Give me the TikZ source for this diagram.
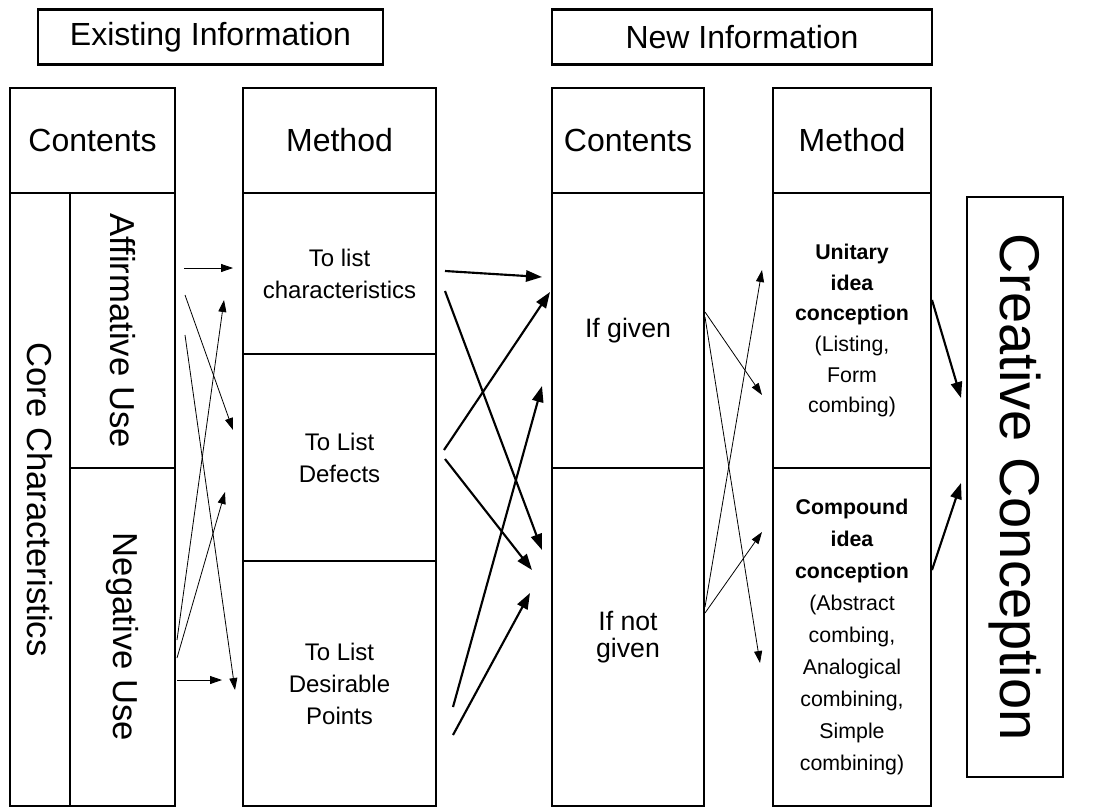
\documentclass[tikz,border=0pt]{standalone}
\usepackage{fontspec}
\setmainfont{Liberation Sans}
\usetikzlibrary{arrows.meta}
\newdimen\px \px=0.75pt

\tikzset{
  box/.style={draw, line width=1.7pt, inner sep=2pt, align=center},
  head/.style={box, font=\fontsize{24}{28}\selectfont},
  side/.style={box, rotate=-90, font=\fontsize{26}{30}\selectfont},
  small/.style={box, font=\fontsize{18}{24}\selectfont},
  thinarr/.style={-{Triangle[length=9pt,width=6pt]}, line width=0.6pt},
  thickarr/.style={-{Triangle[length=12pt,width=8.5pt]}, line width=1.6pt}
}

\begin{document}
\begin{tikzpicture}[x=0.75pt, y=-0.75pt]
  \useasboundingbox (0,0) rectangle (1095,810);

  % titles
  \node[head, minimum width=345\px, minimum height=55\px] (exist) at (210.5,37) {Existing Information};
  \node[head, minimum width=380\px, minimum height=55\px] (new) at (742,37) {New Information};

  % existing information, contents
  \node[head, minimum width=165\px, minimum height=105\px] (cont1) at (92.5,140.5) {Contents};
  \node[side, minimum width=613\px, minimum height=60\px] (core) at (40,499.5) {Core Characteristics};
  \node[side, minimum width=275\px, minimum height=105\px] (aff) at (122.5,330.5) {Affirmative Use};
  \node[side, minimum width=338\px, minimum height=105\px] (neg) at (122.5,637) {Negative Use};

  % existing information, method
  \node[head, minimum width=193\px, minimum height=105\px] (meth1) at (339.5,140.5) {Method};
  \node[small, minimum width=193\px, minimum height=161\px] (char) at (339.5,273.5) {To list\\characteristics};
  \node[small, minimum width=193\px, minimum height=207\px] (defc) at (339.5,457.5) {To List\\Defects};
  \node[small, minimum width=193\px, minimum height=245\px] (desi) at (339.5,683.5) {To List\\Desirable\\Points};

  % new information, contents
  \node[head, minimum width=152\px, minimum height=105\px] (cont2) at (628,140.5) {Contents};
  \node[box, font=\fontsize{20}{20}\selectfont, minimum width=152\px, minimum height=275\px] (given) at (628,330.5) {If given};
  \node[box, font=\fontsize{20}{20}\selectfont, minimum width=152\px, minimum height=338\px] (ngiven) at (628,637) {If not\\given};

  % new information, method
  \node[box, minimum width=158\px, minimum height=105\px, font=\fontsize{24}{28}\selectfont] (meth2) at (852,140.5) {Method};
  \node[box, font=\fontsize{16}{23}\selectfont, minimum width=158\px, minimum height=275\px] (unit) at (852,330.5)
    {\textbf{Unitary}\\\textbf{idea}\\\textbf{conception}\\(Listing,\\Form\\combing)};
  \node[box, font=\fontsize{16}{24}\selectfont, minimum width=158\px, minimum height=338\px] (comp) at (852,637)
    {\textbf{Compound}\\\textbf{idea}\\\textbf{conception}\\(Abstract\\combing,\\Analogical\\combining,\\Simple\\combining)};

  % result
  \node[box, rotate=-90, font=\fontsize{42}{46}\selectfont, minimum width=580\px, minimum height=96\px] (crea) at (1015,487) {Creative Conception};

  % arrow ends, first gap
  \coordinate (a1) at (184,268); \coordinate (b1) at (233,268);
  \coordinate (a2) at (185,295); \coordinate (b2) at (233,430);
  \coordinate (a3) at (185,335); \coordinate (b3) at (235,690);
  \coordinate (a4) at (177,640); \coordinate (b4) at (224,300);
  \coordinate (a5) at (177,658); \coordinate (b5) at (225,492);
  \coordinate (a6) at (177,680); \coordinate (b6) at (222,680);

  % second gap
  \coordinate (c1) at (445,271); \coordinate (d1) at (542,277);
  \coordinate (c2) at (445,291); \coordinate (d2) at (542,550);
  \coordinate (c3) at (444,450); \coordinate (d3) at (550,292);
  \coordinate (c4) at (445,459); \coordinate (d4) at (532,570);
  \coordinate (c5) at (453,707); \coordinate (d5) at (542,386);
  \coordinate (c6) at (453,735); \coordinate (d6) at (530,593);

  % third gap
  \coordinate (e1) at (705,312); \coordinate (f1) at (762,395);
  \coordinate (e2) at (705,317); \coordinate (f2) at (760,663);
  \coordinate (e3) at (705,607); \coordinate (f3) at (762,270);
  \coordinate (e4) at (705,613); \coordinate (f4) at (762,532);

  % last gap
  \coordinate (g1) at (932,300); \coordinate (h1) at (961,398);
  \coordinate (g2) at (932,570); \coordinate (h2) at (961,483);

  \foreach \i in {1,...,6}
    \draw[thinarr] (a\i) -- (b\i);
  \foreach \i in {1,...,6}
    \draw[thickarr] (c\i) -- (d\i);
  \foreach \i in {1,...,4}
    \draw[thinarr] (e\i) -- (f\i);
  \foreach \i in {1,2}
    \draw[thickarr] (g\i) -- (h\i);
\end{tikzpicture}
\end{document}
